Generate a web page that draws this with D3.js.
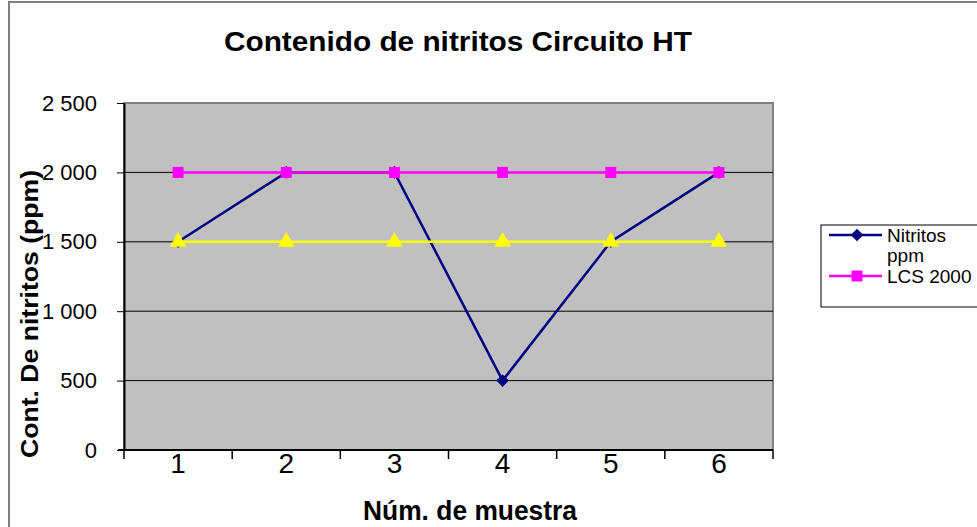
<!DOCTYPE html>
<html>
<head>
<meta charset="utf-8">
<script src="https://cdn.jsdelivr.net/npm/d3@7/dist/d3.min.js"></script>
<style>
  html, body { margin: 0; padding: 0; background: #fff; }
  svg { display: block; font-family: Arial, "Liberation Sans", sans-serif; }
</style>
</head>
<body>
<svg id="chart" width="977" height="527"></svg>
<script>
// Sample numbers on the x axis
const muestras = [1, 2, 3, 4, 5, 6];
// Nitrite content per sample (ppm)
const nitritos = [1500, 2000, 2000, 500, 1500, 2000];
// Reference limit lines
const lcs2000 = [2000, 2000, 2000, 2000, 2000, 2000];
const lcs1500 = [1500, 1500, 1500, 1500, 1500, 1500];
// Value axis ticks
const yTicks = [0, 500, 1000, 1500, 2000, 2500];

const titulo = "Contenido de nitritos Circuito HT";
const tituloX = "Núm. de muestra";
const tituloY = "Cont. De nitritos (ppm)";
const leyenda = [
  { lines: ["Nitritos", "ppm"], color: "#000080", shape: "diamond" },
  { lines: ["LCS 2000"], color: "#FF00FF", shape: "square" }
];

const svg = d3.select("#chart");
const plot = { left: 124, top: 103, right: 773, bottom: 450 };

const x = d3.scaleBand().domain(muestras).range([plot.left, plot.right]);
const y = d3.scaleLinear().domain([0, 2500]).range([plot.bottom, plot.top]);
const fmt = d3.formatLocale({ decimal: ",", thousands: " ", grouping: [3], currency: ["", ""] }).format(",d");

// Outer chart frame
svg.append("rect")
  .attr("x", 9).attr("y", 2).attr("width", 990).attr("height", 540)
  .attr("fill", "#fff").attr("stroke", "#808080").attr("stroke-width", 2);

// Plot background
svg.append("rect")
  .attr("x", plot.left).attr("y", plot.top)
  .attr("width", plot.right - plot.left).attr("height", plot.bottom - plot.top)
  .attr("fill", "#C0C0C0").attr("stroke", "#808080").attr("stroke-width", 2);

// Horizontal gridlines
svg.append("g").selectAll("line")
  .data(yTicks.filter(d => d > 0 && d < 2500))
  .join("line")
  .attr("x1", plot.left).attr("x2", plot.right)
  .attr("y1", d => y(d)).attr("y2", d => y(d))
  .attr("stroke", "#000").attr("stroke-width", 1);

// Value axis
const yAxis = svg.append("g")
  .attr("transform", `translate(${plot.left},0)`)
  .call(d3.axisLeft(y).tickValues(yTicks).tickFormat(fmt).tickSize(7).tickSizeOuter(0).tickPadding(20));
yAxis.select(".domain").attr("stroke", "#000").attr("stroke-width", 2);
yAxis.selectAll(".tick line").attr("stroke", "#000");
yAxis.selectAll(".tick text").attr("font-size", 22).attr("fill", "#000")
  .attr("font-family", "Arial, 'Liberation Sans', sans-serif");

// Category axis: ticks between categories
const xAxisG = svg.append("g").attr("transform", `translate(0,${plot.bottom})`);
xAxisG.append("line")
  .attr("x1", plot.left - 6).attr("x2", plot.right)
  .attr("y1", 0).attr("y2", 0)
  .attr("stroke", "#000").attr("stroke-width", 2);
const bounds = muestras.map(d => x(d)).concat([plot.right]);
xAxisG.selectAll("line.tk").data(bounds).join("line").attr("class", "tk")
  .attr("x1", d => d).attr("x2", d => d).attr("y1", 0).attr("y2", 9)
  .attr("stroke", "#000").attr("stroke-width", 1.5);
xAxisG.selectAll("text").data(muestras).join("text")
  .attr("x", d => x(d) + x.bandwidth() / 2)
  .attr("y", 23)
  .attr("text-anchor", "middle")
  .attr("font-size", 28)
  .text(d => d);

// Series lines and markers
const cx = i => x(muestras[i]) + x.bandwidth() / 2;
const line = d3.line().x((d, i) => cx(i)).y(d => y(d));

function marker(shape) {
  if (shape === "triangle") return d3.symbol().type(d3.symbolTriangle).size(125)();
  return d3.symbol().type(d3.symbolSquare).size(shape === "diamond" ? 80 : 121)();
}

function drawSeries(values, color, shape) {
  const g = svg.append("g");
  g.append("path").datum(values)
    .attr("d", line).attr("fill", "none")
    .attr("stroke", color).attr("stroke-width", 2.5);
  g.selectAll("path.m").data(values).join("path").attr("class", "m")
    .attr("transform", (d, i) => `translate(${cx(i)},${y(d)})` + (shape === "diamond" ? " rotate(45)" : ""))
    .attr("d", marker(shape))
    .attr("fill", color);
}

drawSeries(nitritos, "#000080", "diamond");
drawSeries(lcs2000, "#FF00FF", "square");
drawSeries(lcs1500, "#FFFF00", "triangle");

// Titles
svg.append("text")
  .attr("x", 458).attr("y", 51)
  .attr("text-anchor", "middle")
  .attr("font-size", 28).attr("font-weight", "bold")
  .attr("textLength", 468).attr("lengthAdjust", "spacingAndGlyphs")
  .text(titulo);

svg.append("text")
  .attr("x", 470).attr("y", 520)
  .attr("text-anchor", "middle")
  .attr("font-size", 27).attr("font-weight", "bold")
  .attr("textLength", 214).attr("lengthAdjust", "spacingAndGlyphs")
  .text(tituloX);

svg.append("text")
  .attr("transform", "translate(38,314) rotate(-90)")
  .attr("text-anchor", "middle")
  .attr("font-size", 24).attr("font-weight", "bold")
  .attr("textLength", 288).attr("lengthAdjust", "spacingAndGlyphs")
  .text(tituloY);

// Legend
const lg = svg.append("g");
lg.append("rect")
  .attr("x", 821).attr("y", 225).attr("width", 170).attr("height", 82)
  .attr("fill", "#fff").attr("stroke", "#000").attr("stroke-width", 1);
const legendY = [235, 276];
leyenda.forEach((item, k) => {
  const ly = legendY[k];
  lg.append("line").attr("x1", 829).attr("x2", 882).attr("y1", ly).attr("y2", ly)
    .attr("stroke", item.color).attr("stroke-width", 2.5);
  lg.append("path")
    .attr("transform", `translate(857,${ly})` + (item.shape === "diamond" ? " rotate(45)" : ""))
    .attr("d", marker(item.shape)).attr("fill", item.color);
  item.lines.forEach((t, j) => {
    lg.append("text").attr("x", 887).attr("y", ly + 7 + j * 20)
      .attr("font-size", 19).text(t);
  });
});
</script>
</body>
</html>
